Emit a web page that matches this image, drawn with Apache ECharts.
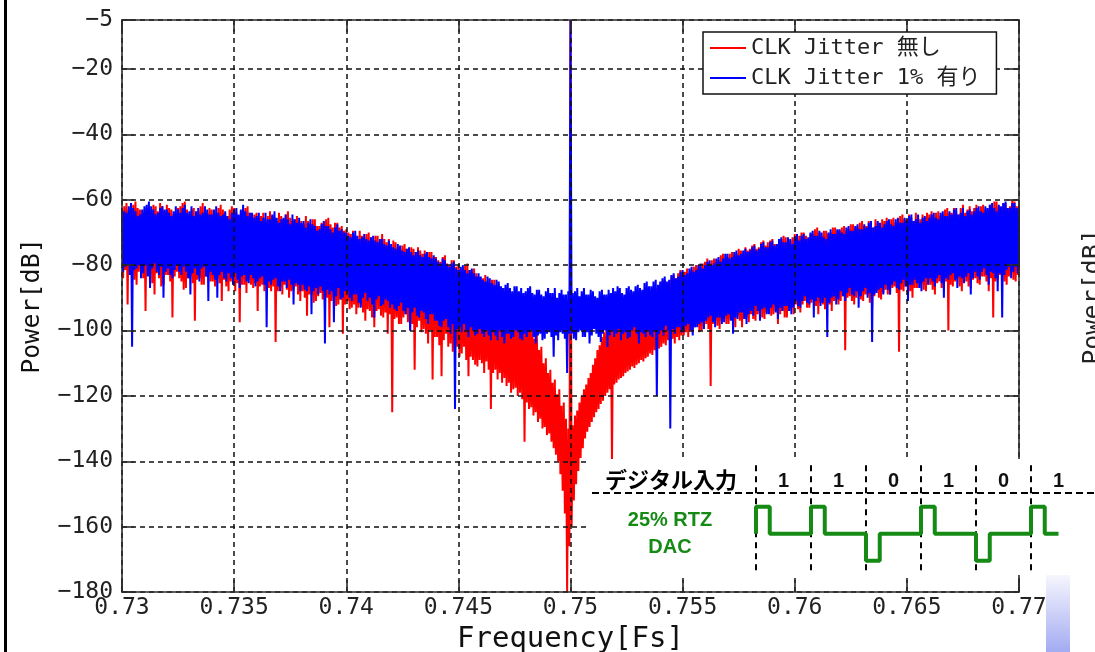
<!DOCTYPE html>
<html>
<head>
<meta charset="utf-8">
<script src="https://cdn.jsdelivr.net/npm/echarts@6.0.0/dist/echarts.min.js"></script>
<style>
html, body { margin: 0; padding: 0; background: #fff; }
#main { width: 1095px; height: 652px; }
</style>
</head>
<body>
<div id="main"></div>
<script>
// frequency axis (Fs) and power axis (dB)
var freqStart = 0.73, freqEnd = 0.77, freqTick = 0.005, freqStep = 0.0001;
var powerMin = -180, powerMax = -5, powerTick = 20;

var legendNames = ['CLK Jitter 無し', 'CLK Jitter 1% 有り'];

// upper / lower edge of each noise band, one value every 0.0001 Fs from 0.73
var blueTop = [
  -62.5, -63.5, -64, -62, -61, -62.5, -63.5, -65, -64.5, -63, -62, -61.5, -60.5, -62, -63, -64.5, -64, -62.5, -62, -63,
  -63, -64, -65, -63.5, -62, -63, -64, -62.5, -61.5, -64, -63.5, -62, -65, -63.5, -62.5, -64.5, -64, -62, -63, -64.5,
  -64.5, -63, -62, -64, -65, -64.5, -63.5, -65, -66, -64, -63, -62.5, -64.5, -63, -61.5, -63.5, -65, -64, -64, -65.5,
  -65, -64, -66.5, -65.5, -64, -66, -66, -64.5, -63.5, -65.5, -67, -66, -65.5, -64.5, -66, -67.5, -64.5, -66, -67, -65.5,
  -67, -66.5, -68.5, -67, -66, -67.5, -68, -69.5, -69, -67.5, -66.5, -68, -68, -69, -70, -68.5, -67.5, -69.5, -69, -70,
  -70, -71, -71.5, -70, -69.5, -71, -72, -71.5, -70.5, -72, -72.5, -71.5, -71, -72.5, -73, -72, -72, -73.5, -74, -72.5,
  -73.5, -74.5, -75, -73.5, -74, -75.5, -76, -75, -74.5, -76, -77, -76, -75.5, -77, -77.5, -76.5, -76, -77.5, -78, -77,
  -78, -79, -79.5, -78, -78.5, -80, -80.5, -79.5, -79, -81, -81.5, -80.5, -80, -81.5, -82.5, -81.5, -81, -82.5, -83.5, -82.5,
  -83.5, -84.5, -85, -83.5, -84, -85.5, -86, -84.5, -85, -86.5, -87, -86, -85.5, -87, -88, -86.5, -86.5, -88, -87, -88.5,
  -88, -87, -86.5, -88.5, -89, -87.5, -87.5, -89, -89.5, -88, -87, -88.5, -88.5, -87, -90, -88.5, -87.5, -89, -89, -88,
  -5, -88.5, -88, -87, -89.5, -88, -87, -89, -89, -87.5, -88, -89.5, -90, -88, -87.5, -89, -89, -87.5, -88.5, -87,
  -88, -86.5, -87, -88.5, -89, -87, -86.5, -87.5, -88, -86.5, -86, -87, -87.5, -85.5, -85, -86.5, -86.5, -85, -84.5, -86,
  -85, -84, -83.5, -85, -84.5, -83, -82.5, -84, -83.5, -82, -81.5, -83, -82.5, -81, -80.5, -82, -81.5, -80, -79.5, -81,
  -80, -79, -78.5, -80, -79.5, -78, -77.5, -79, -78, -76.5, -76.5, -78, -77.5, -76, -75.5, -77, -76.5, -75.5, -75, -76,
  -75.5, -74.5, -74, -75.5, -75, -73.5, -73, -74.5, -74.5, -73, -72.5, -74, -73.5, -72, -71.5, -73, -73, -71.5, -72, -73.5,
  -71.5, -70.5, -72.5, -71, -70.5, -72, -71.5, -70, -69.5, -71, -71, -69.5, -70, -71.5, -72, -70, -69, -70.5, -70.5, -69,
  -69, -70, -70.5, -68.5, -68, -69.5, -69.5, -68, -67.5, -69, -69, -67.5, -68.5, -67, -66.5, -68.5, -68, -66.5, -67, -68.5,
  -67.5, -66.5, -66, -67.5, -68, -66, -65.5, -67, -67, -65.5, -66.5, -65, -64.5, -66.5, -66, -64.5, -67, -65.5, -65, -66.5,
  -65.5, -64.5, -64, -65.5, -66, -64, -63.5, -65, -65, -63.5, -64.5, -63, -62.5, -64.5, -64, -62.5, -65, -63.5, -63, -64.5,
  -63.5, -62.5, -62, -63.5, -64, -62, -62.5, -61.5, -61, -62.5, -63.5, -61.5, -62, -61, -60.5, -62.5, -62.5, -61, -61, -62.5,
  -62
];
var blueBottom = [
  -82, -80.5, -80, -83, -105, -81.5, -81, -80, -84, -82.5, -80, -83.5, -87, -81, -79.5, -82, -83, -80.5, -90, -82,
  -81, -83, -84, -81.5, -80, -82, -83, -80.5, -82, -84, -89, -82.5, -81, -83, -85, -81, -80.5, -83.5, -91, -82,
  -83, -84.5, -90, -83, -82, -84, -85, -82.5, -84, -86, -82.5, -84.5, -87, -83.5, -83, -85, -85.5, -83, -84, -86.5,
  -85, -84, -83.5, -86, -99, -85, -86, -84.5, -84, -86.5, -88, -85, -85, -87, -84.5, -86, -92, -85.5, -86, -88,
  -86, -87.5, -88, -86.5, -95, -88, -87, -89, -86.5, -88, -104, -87.5, -89, -88, -97.5, -89.5, -87, -90.5, -90, -88,
  -88, -90, -91, -89, -89, -91.5, -93, -90, -88.5, -91, -90, -92, -96, -90.5, -89.5, -92.5, -92, -90.5, -91, -93,
  -92, -93.5, -94, -92.5, -91.5, -94, -95, -93, -100, -94.5, -93, -95.5, -96, -94, -94.5, -96.5, -98, -95, -95, -97,
  -97, -98.5, -99, -97, -96.5, -99, -101, -98, -124, -99.5, -99, -100.5, -98, -100, -102, -99, -100, -101.5, -101, -99.5,
  -101, -102, -100, -101.5, -103, -100.5, -101.5, -103, -100, -102, -104, -101, -101, -102.5, -102, -100, -100.5, -102.5, -103, -101,
  -102, -100.5, -100, -102, -104, -101.5, -101, -103, -102.5, -101, -100.5, -102, -108, -101.5, -103, -100.5, -101, -102.5, -113, -101,
  -101, -102.5, -103, -100.5, -100, -102, -102, -100.5, -104, -101.5, -99.5, -101, -102, -103.5, -101, -100, -105, -101.5, -100, -102,
  -101, -99.5, -103, -101, -100.5, -102.5, -102, -100, -99, -101, -104, -100.5, -101, -102, -100, -101.5, -102, -100, -120, -101,
  -100, -101.5, -98.5, -100, -130, -99.5, -101, -99, -99, -100.5, -100.5, -98.5, -98, -100, -101.5, -99, -99, -98, -97.5, -99.5,
  -97, -96, -95.5, -97.5, -99, -96, -96, -98, -97.5, -95.5, -95, -97, -101, -96, -96.5, -94.5, -94.5, -96.5, -98, -95,
  -94, -95.5, -92.5, -94, -97, -93.5, -93, -95, -95, -93, -92, -94.5, -96.5, -93, -94, -92.5, -92.5, -94, -95, -93,
  -91, -92.5, -93, -91, -89.5, -91.5, -92, -90.5, -96, -91, -90, -92.5, -91.5, -90, -102, -91.5, -90, -89.5, -92, -90.5,
  -88, -89.5, -91, -88.5, -87, -89, -89.5, -88, -93, -89.5, -88, -87, -90, -88.5, -103.5, -89, -88.5, -87.5, -87, -89,
  -86, -87.5, -89, -86, -85, -87, -87.5, -85.5, -84.5, -86.5, -91, -86, -86, -84.5, -85.5, -87, -88, -85, -84, -86,
  -84, -85, -86.5, -84, -83, -85.5, -90, -84, -84.5, -83, -82.5, -84.5, -87, -83.5, -84, -85.5, -83.5, -82.5, -89, -84,
  -82, -83.5, -84.5, -82, -81, -83, -86, -82, -82.5, -84, -88, -82.5, -96, -83, -81.5, -80.5, -84, -82, -80.5, -82.5,
  -80
];
var redTop = [
  -63, -62, -61, -63, -62.5, -61.5, -60.5, -62.5, -63, -64.5, -64, -62.5, -62, -63.5, -61.5, -62, -63.5, -61, -62, -63.5,
  -61.5, -62.5, -63, -64.5, -64, -62.5, -62, -61, -60.5, -63, -64.5, -63, -62.5, -64, -63.5, -62, -61, -63, -64, -62.5,
  -63, -63.5, -64.5, -62.5, -61.5, -63, -64, -65, -63, -62, -62.5, -64, -65, -63.5, -63.5, -62.5, -62, -64, -65.5, -64.5,
  -64, -65.5, -65, -64, -66.5, -65, -63.5, -65, -65.5, -66.5, -64, -65, -66, -64.5, -63.5, -65.5, -66.5, -66, -65, -66.5,
  -66.5, -67.5, -65, -66.5, -67.5, -66, -66, -68, -68, -67, -67, -66, -65.5, -67.5, -68.5, -67, -67, -68.5, -68, -69.5,
  -69, -70, -70.5, -69.5, -71, -72, -69.5, -71, -71.5, -70.5, -70, -71.5, -72.5, -71, -71, -72.5, -70.5, -72, -73, -72,
  -74, -72.5, -73, -74.5, -75, -74, -73.5, -75, -76, -74.5, -75, -76, -74.5, -75.5, -76.5, -75.5, -77, -76, -76, -77.5,
  -77.5, -78.5, -79, -77.5, -77, -79.5, -80, -78.5, -78.5, -80.5, -80, -81, -81.5, -80, -79.5, -81.5, -82, -81, -82.5, -83.5,
  -84.5, -84, -83, -85, -85.5, -84.5, -84.5, -86.5, -86, -87.5, -87, -88.5, -88, -89.5, -89, -90, -93, -92, -95, -94,
  -97, -96, -99.5, -98.5, -102.5, -101, -106, -105, -110, -108.5, -113, -112, -116, -115, -119.5, -118, -123, -122, -127, -130,
  -5, -129, -126, -124.5, -122, -120, -118, -116.5, -114.5, -113, -110.5, -108.5, -106, -104.5, -102, -100.5, -99, -98, -97, -96,
  -95, -94.5, -93.5, -94, -92.5, -93, -92, -91.5, -92, -91, -90.5, -91, -90, -89.5, -89, -88.5, -88.5, -87.5, -87, -86.5,
  -86, -85, -84.5, -85.5, -85, -83.5, -83, -84, -82.5, -81.5, -83, -82, -81, -82.5, -81.5, -80.5, -80, -81, -80.5, -79.5,
  -79, -78, -79.5, -78.5, -78, -79, -78.5, -77, -76.5, -78, -77.5, -76.5, -76, -77, -76.5, -75, -75.5, -76.5, -74.5, -75.5,
  -75, -74, -73.5, -75, -74.5, -73, -72.5, -74, -73, -72.5, -72, -73.5, -73.5, -72, -72, -71, -71.5, -73, -72.5, -71.5,
  -70.5, -71.5, -71, -70, -70, -71, -72, -70.5, -70.5, -69, -68.5, -70, -71, -69.5, -69.5, -70.5, -70, -68.5, -68.5, -69.5,
  -69.5, -68.5, -68, -69.5, -69, -67.5, -67.5, -68.5, -68.5, -67, -66.5, -68, -68, -66.5, -67.5, -68.5, -66, -67, -67.5, -66,
  -66.5, -65.5, -67, -66, -65.5, -67, -66.5, -65, -64.5, -66, -66, -64.5, -65.5, -66.5, -64, -65.5, -66, -64.5, -65.5, -64,
  -64.5, -63.5, -65.5, -64, -63.5, -65, -64.5, -63, -62.5, -64, -64, -62.5, -63.5, -64.5, -62.5, -61.5, -64, -63, -62, -63.5,
  -62.5, -61.5, -63.5, -62, -61.5, -63, -63, -61.5, -62, -60.5, -60.5, -62, -62.5, -61, -61, -62.5, -62, -60, -60.5, -62,
  -61.5
];
var redBottom = [
  -84, -81.5, -92, -83, -81, -84.5, -86, -82, -82, -84, -94, -83, -83, -85.5, -89, -82.5, -84, -86.5, -86, -83,
  -83, -85, -96, -83.5, -82, -84, -85, -87.5, -87, -84, -83.5, -85.5, -97, -84.5, -84, -86, -86, -83.5, -83, -85,
  -85, -86.5, -84, -85.5, -91, -84.5, -86.5, -88, -85, -86, -88, -85.5, -97.5, -86, -86, -88.5, -84.5, -86, -87, -85.5,
  -94, -86.5, -86, -88, -85.5, -87, -88, -86.5, -103.5, -88, -87, -89, -86, -87.5, -90, -88, -87.5, -86.5, -89, -91,
  -88, -90, -95.5, -89, -89, -91.5, -91, -89.5, -88.5, -90.5, -93, -90, -99, -91, -90, -92.5, -92, -90.5, -101, -92,
  -91, -93.5, -93, -92, -95, -93, -92, -94.5, -97, -93.5, -94, -96, -99, -94, -93.5, -95.5, -96, -94.5, -101, -95,
  -125, -96.5, -96, -98, -98, -96, -95, -97.5, -100, -98, -112, -99, -97, -100.5, -99.5, -101, -104, -100, -115, -102,
  -102, -104.5, -114, -103, -101, -105, -104, -106.5, -106, -105, -108, -107, -105, -109, -114, -108, -109, -110.5, -111, -109,
  -110, -113, -109.5, -112, -124, -113, -112, -115, -113, -116, -114.5, -117, -116, -119, -118, -117.5, -120, -119, -121, -134,
  -122, -124, -123.5, -126, -125, -128, -127, -130, -129.5, -132, -131.5, -134, -136, -138, -140, -144, -149, -156, -180, -166,
  -160, -152, -147, -143, -139, -136, -133, -131, -129.5, -128, -126.5, -125, -124, -122.5, -121.5, -120, -119, -118, -140, -116.5,
  -116, -115, -114.5, -114, -113, -112.5, -112, -111, -111.5, -110.5, -110, -109, -109.5, -108.5, -108, -107, -107.5, -106, -106.5, -105.5,
  -105, -104, -104.5, -103, -103.5, -102.5, -104, -102, -103, -101.5, -101.5, -100.5, -102, -100, -100.5, -99, -98.5, -100.5, -100, -98.5,
  -98, -99.5, -117, -98, -97, -98.5, -99.5, -97, -96.5, -98, -98, -96.5, -97, -99, -95.5, -97, -99, -96.5, -96, -97.5,
  -95, -96.5, -97, -95, -94, -96, -96.5, -94.5, -93.5, -95.5, -95, -94, -98, -95, -94, -96, -96, -94, -93, -95,
  -92, -93.5, -94.5, -92, -91, -93, -93, -91.5, -90.5, -92.5, -95, -91.5, -92, -93.5, -91, -92, -94, -91, -90, -92,
  -91, -89.5, -106, -90, -89.5, -91, -92, -90, -88.5, -90.5, -91, -89, -89, -91.5, -93, -89.5, -88, -90, -90.5, -88.5,
  -87.5, -89, -89, -87, -86.5, -88.5, -106.5, -87.5, -88, -86.5, -86, -88, -90, -87, -87, -85.5, -85.5, -87.5, -88, -86,
  -86, -87.5, -89, -85.5, -85, -87, -87, -85, -100, -86, -86.5, -85, -84, -86.5, -88, -84.5, -85, -86.5, -87, -84.5,
  -84, -85.5, -86, -83.5, -83.5, -85, -88, -84, -96, -85, -84.5, -83, -83, -85, -86, -83.5, -82.5, -84.5, -85, -83,
  -82
];

// inset: digital input bits for the 25% RTZ DAC
var bits = [1, 1, 0, 1, 0, 1];

var MONO = "'DejaVu Sans Mono', 'Noto Sans CJK JP', monospace";
var ARIAL = "'Liberation Sans', Arial, sans-serif";

function zigzag(top, bottom) {
  var pts = [];
  for (var i = 0; i < top.length; i++) {
    var f = +(freqStart + i * freqStep).toFixed(6);
    pts.push([f, top[i]]);
    if (i < bottom.length) pts.push([+(f + freqStep / 2).toFixed(6), bottom[i]]);
  }
  return pts;
}

var wave = [];
bits.forEach(function (b, k) {
  var lvl = b ? 1 : -1;
  wave.push([k, 0], [k, lvl], [k + 0.25, lvl], [k + 0.25, 0]);
});
wave.push([bits.length - 0.5, 0]);

var axisLineStyle = { color: '#2a2a2a', width: 1.6 };
var gridDash = { type: [5, 4], color: '#111', width: 1.5 };

var chart = echarts.init(document.getElementById('main'));
var option = {
  backgroundColor: '#fff',
  animation: false,
  textStyle: { fontFamily: MONO },
  legend: {
    data: legendNames,
    orient: 'vertical',
    left: 703, top: 32,
    padding: [5, 16, 5, 7],
    itemGap: 8, itemWidth: 36, itemHeight: 2,
    icon: 'rect',
    backgroundColor: '#fff',
    borderColor: '#111', borderWidth: 1.5,
    textStyle: { fontSize: 22, color: '#222', fontFamily: MONO },
    z: 6
  },
  grid: [
    { left: 122, right: 76, top: 20, bottom: 60, outerBoundsMode: 'none', containLabel: false },
    { left: 756, width: 330, top: 465, height: 105.3, outerBoundsMode: 'none', containLabel: false }
  ],
  xAxis: [
    {
      type: 'value', gridIndex: 0, position: 'bottom', z: 3,
      min: freqStart, max: freqEnd, interval: freqTick,
      name: 'Frequency[Fs]', nameLocation: 'middle', nameGap: 29,
      nameTextStyle: { fontSize: 29, color: '#111', fontFamily: MONO },
      axisLine: { onZero: false, lineStyle: axisLineStyle },
      axisTick: { inside: true, length: 12, lineStyle: axisLineStyle },
      axisLabel: {
        margin: 5, fontSize: 23, color: '#222', fontFamily: MONO,
        formatter: function (v) { return String(+v.toFixed(3)); }
      },
      splitLine: { show: true, lineStyle: gridDash }
    },
    {
      type: 'value', gridIndex: 0, position: 'top', z: 3,
      min: freqStart, max: freqEnd, interval: freqTick,
      axisLine: { onZero: false, lineStyle: axisLineStyle },
      axisTick: { inside: true, length: 12, lineStyle: axisLineStyle },
      axisLabel: { show: false },
      splitLine: { show: false }
    },
    { type: 'value', gridIndex: 1, min: 0, max: bits.length, show: false },
    {
      type: 'category', gridIndex: 1, position: 'top', z: 15,
      data: bits.map(String), boundaryGap: true,
      axisLine: { show: false, onZero: false },
      axisTick: { show: false },
      splitLine: { show: false },
      axisLabel: {
        inside: true, margin: 6, fontSize: 20, fontWeight: 'bold',
        color: '#111', fontFamily: ARIAL
      }
    }
  ],
  yAxis: [
    {
      type: 'value', gridIndex: 0, position: 'left', z: 3,
      min: powerMin, max: powerMax, interval: powerTick,
      name: 'Power[dB]', nameLocation: 'middle', nameGap: 77,
      nameTextStyle: { fontSize: 25, color: '#111', fontFamily: MONO },
      axisLine: { onZero: false, lineStyle: axisLineStyle },
      axisTick: { inside: true, length: 12, lineStyle: axisLineStyle },
      axisLabel: {
        margin: 9, fontSize: 23, color: '#222', fontFamily: MONO,
        formatter: function (v) { return String(v).replace('-', '\u2212'); }
      },
      splitLine: { show: true, lineStyle: gridDash }
    },
    {
      type: 'value', gridIndex: 0, position: 'right', z: 3,
      min: powerMin, max: powerMax, interval: powerTick,
      axisLine: { onZero: false, lineStyle: axisLineStyle },
      axisTick: { inside: true, length: 12, lineStyle: axisLineStyle },
      axisLabel: { show: false },
      splitLine: { show: false }
    },
    { type: 'value', gridIndex: 1, min: -1.35, max: 2.55, show: false }
  ],
  series: [
    {
      name: legendNames[0], type: 'line', xAxisIndex: 0, yAxisIndex: 0,
      data: zigzag(redTop, redBottom), symbol: 'none', silent: true,
      lineStyle: { color: '#ff0000', width: 2, join: 'bevel' }, itemStyle: { color: '#ff0000' }, z: 2
    },
    {
      name: legendNames[1], type: 'line', xAxisIndex: 0, yAxisIndex: 0,
      data: zigzag(blueTop, blueBottom), symbol: 'none', silent: true,
      lineStyle: { color: '#0000ff', width: 2, join: 'bevel' }, itemStyle: { color: '#0000ff' }, z: 2
    },
    {
      type: 'line', xAxisIndex: 2, yAxisIndex: 2, data: wave,
      symbol: 'none', silent: true, z: 15,
      lineStyle: { color: '#158a15', width: 4 },
      markLine: {
        silent: true, symbol: 'none', z: 14, label: { show: false },
        lineStyle: { color: '#000', type: [6, 5], width: 2 },
        data: bits.map(function (b, k) { return { xAxis: k }; })
      }
    }
  ],
  graphic: [
    { type: 'rect', shape: { x: 4, y: 0, width: 3, height: 652 }, style: { fill: '#000' }, z: 10 },
    { type: 'rect', shape: { x: 588, y: 459, width: 507, height: 116 }, style: { fill: '#fff' }, z: 10 },
    {
      type: 'rect', shape: { x: 1046, y: 575, width: 24, height: 77 }, z: 10,
      style: {
        fill: new echarts.graphic.LinearGradient(0, 0, 0, 1, [
          { offset: 0, color: '#f6f6fd' }, { offset: 1, color: '#a3abf2' }
        ])
      }
    },
    {
      type: 'text', x: 1093, y: 297, rotation: Math.PI / 2, z: 10,
      style: {
        text: 'Power[dB]', fontSize: 25, fontFamily: MONO, fill: '#222',
        textAlign: 'center', textVerticalAlign: 'middle', align: 'center', verticalAlign: 'middle'
      }
    },
    {
      type: 'line', z: 12,
      shape: { x1: 592, y1: 493, x2: 1095, y2: 493 },
      style: { stroke: '#000', lineWidth: 2, lineDash: [7, 4] }
    },
    {
      type: 'text', x: 605, y: 480, z: 12,
      style: {
        text: 'デジタル入力', fontSize: 22, fontWeight: 'bold', fontFamily: "'Noto Sans CJK JP'",
        fill: '#000', textVerticalAlign: 'middle', verticalAlign: 'middle'
      }
    },
    {
      type: 'text', x: 670, y: 520, z: 12,
      style: {
        text: '25% RTZ', fontSize: 20, fontWeight: 'bold', fontFamily: ARIAL,
        fill: '#158a15', textAlign: 'center', textVerticalAlign: 'middle', align: 'center', verticalAlign: 'middle'
      }
    },
    {
      type: 'text', x: 670, y: 547, z: 12,
      style: {
        text: 'DAC', fontSize: 20, fontWeight: 'bold', fontFamily: ARIAL,
        fill: '#158a15', textAlign: 'center', textVerticalAlign: 'middle', align: 'center', verticalAlign: 'middle'
      }
    }
  ]
};
chart.setOption(option);
</script>
</body>
</html>
